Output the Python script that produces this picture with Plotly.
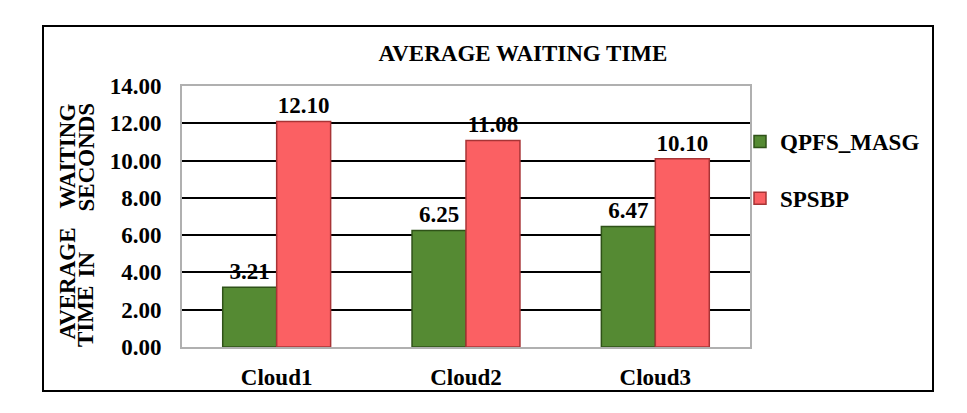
import plotly.graph_objects as go

categories = ["Cloud1", "Cloud2", "Cloud3"]
qpfs_masg = [3.21, 6.25, 6.47]
spsbp = [12.10, 11.08, 10.10]
y_ticks = [0, 2, 4, 6, 8, 10, 12, 14]

FONT = "Liberation Serif, Times New Roman, serif"
FS = 23
W, H = 967, 413
L, R, T, B = 182, 750, 86, 347  # plot area in pixels


def px(x):
    return (x - L) / (R - L)


def py(y):
    return (B - y) / (B - T)


fig = go.Figure()
fig.add_trace(go.Bar(
    x=categories, y=qpfs_masg, name="QPFS_MASG",
    marker=dict(color="#558a33", line=dict(color="#2f5218", width=1.5)),
    texttemplate="%{y:.2f}", textposition="outside",
    textfont=dict(family=FONT, size=FS, color="black", weight="bold"),
    cliponaxis=False, legendgroup="a",
))
fig.add_trace(go.Bar(
    x=categories, y=spsbp, name="SPSBP",
    marker=dict(color="#fb6063", line=dict(color="#a83436", width=1.5)),
    texttemplate="%{y:.2f}", textposition="outside",
    textfont=dict(family=FONT, size=FS, color="black", weight="bold"),
    cliponaxis=False, legendgroup="b",
))

annotations = []
# y axis title words (two rotated lines)
words = [
    ("AVERAGE", 67, 283.5), ("WAITING", 67, 156.5),
    ("TIME", 85.5, 316.5), ("IN", 85.5, 265), ("SECONDS", 85.5, 157),
]
for w, x, y in words:
    annotations.append(dict(
        text=w, x=px(x), y=py(y), xref="paper", yref="paper",
        textangle=-90, showarrow=False, xanchor="center", yanchor="middle",
        font=dict(family=FONT, size=FS, color="black", weight="bold"),
    ))

fig.update_layout(
    width=W, height=H,
    margin=dict(l=L, r=W - R, t=T, b=H - B),
    paper_bgcolor="white", plot_bgcolor="white",
    font=dict(family=FONT, size=FS, color="black", weight="bold"),
    title=dict(text="AVERAGE WAITING TIME", x=523 / W, y=1 - 53 / H,
               xanchor="center", yanchor="middle",
               font=dict(family=FONT, size=FS, color="black", weight="bold")),
    barmode="group", bargap=0.43, bargroupgap=0.0,
    legend=dict(x=px(740), y=py(120), xanchor="left", yanchor="top",
                font=dict(family=FONT, size=FS, color="black", weight="bold"),
                traceorder="grouped", tracegroupgap=24,
                bgcolor="rgba(0,0,0,0)", itemwidth=30),
    annotations=annotations,
    shapes=[dict(type="rect", xref="paper", yref="paper",
                 x0=px(43), x1=px(933), y0=py(391), y1=py(26),
                 line=dict(color="black", width=2), layer="below")],
    xaxis=dict(showgrid=False, showline=True, linecolor="#b0b0b0", linewidth=2,
               mirror=True, ticks="", ticklabelstandoff=8,
               tickfont=dict(family=FONT, size=FS, color="black", weight="bold")),
    yaxis=dict(range=[0, 14], tickvals=y_ticks, tickformat=".2f",
               showgrid=True, gridcolor="black", gridwidth=1.5,
               zeroline=False, showline=True, linecolor="#b0b0b0", linewidth=2,
               mirror=True, ticks="", ticklabelstandoff=14,
               tickfont=dict(family=FONT, size=FS, color="black", weight="bold")),
)

fig.write_html("out.html")
